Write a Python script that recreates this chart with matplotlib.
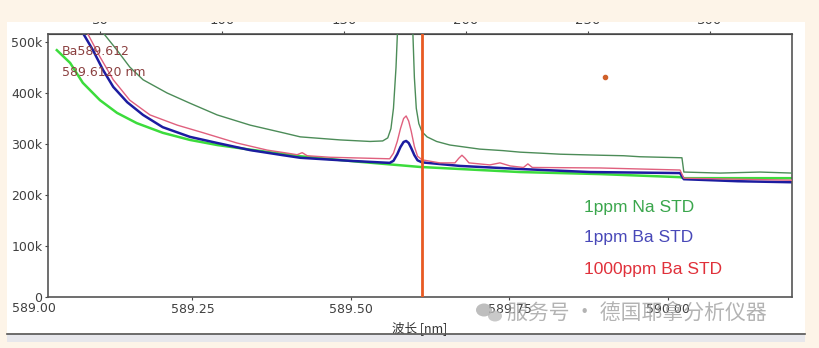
import matplotlib.pyplot as plt
from matplotlib.patches import Rectangle, Ellipse

# wavelength [nm] / intensity [k counts]
na_wl = [589.100, 589.109, 589.131, 589.151, 589.172, 589.210, 589.246, 589.289, 589.341,
         589.393, 589.420, 589.483, 589.530, 589.550, 589.558, 589.563, 589.567, 589.571,
         589.574, 589.585, 589.597, 589.600, 589.603, 589.607, 589.612, 589.620, 589.635,
         589.656, 589.703, 589.740, 589.767, 589.800, 589.830, 589.893, 589.930, 589.956,
         590.022, 590.025, 590.082, 590.145, 590.196]
na_val = [530, 518, 484, 451, 426, 400, 380, 357, 337, 322, 314, 308, 305, 306, 312, 330, 370,
          450, 540, 900, 540, 430, 370, 340, 324, 314, 305, 298, 290, 287, 284, 282, 280, 278,
          277, 275, 273, 245, 243, 245, 243]

lime_wl = [589.036, 589.057, 589.077, 589.104, 589.131, 589.162, 589.203, 589.246, 589.289,
           589.341, 589.420, 589.514, 589.609, 589.703, 589.767, 589.893, 590.019, 590.025,
           590.100, 590.196]
lime_val = [484, 459, 420, 386, 361, 341, 322, 308, 298, 289, 276, 265, 255, 249, 245, 241,
            235, 233, 233, 233]

blue_wl = [589.070, 589.077, 589.093, 589.109, 589.125, 589.147, 589.172, 589.203, 589.246,
           589.289, 589.341, 589.393, 589.420, 589.498, 589.561, 589.567, 589.573, 589.578,
           589.583, 589.587, 589.591, 589.595, 589.600, 589.605, 589.612, 589.672, 589.767,
           589.877, 590.019, 590.025, 590.110, 590.196]
blue_val = [540, 518, 484, 445, 412, 382, 357, 333, 314, 302, 288, 278, 273, 267, 263, 267,
            280, 294, 304, 306, 302, 292, 278, 268, 264, 257, 251, 245, 243, 231, 227, 225]

pink_wl = [589.077, 589.084, 589.104, 589.125, 589.151, 589.183, 589.226, 589.267, 589.320,
           589.368, 589.400, 589.415, 589.423, 589.431, 589.467, 589.530, 589.561, 589.567,
           589.573, 589.578, 589.583, 589.587, 589.591, 589.595, 589.600, 589.605, 589.612,
           589.640, 589.664, 589.670, 589.675, 589.680, 589.686, 589.719, 589.735, 589.751,
           589.772, 589.779, 589.786, 589.893, 589.956, 590.019, 590.025, 590.110, 590.196]
pink_val = [540, 518, 471, 426, 386, 357, 337, 322, 302, 288, 282, 279, 283, 277, 274, 272,
            271, 282, 305, 330, 350, 355, 345, 325, 295, 276, 269, 263, 263, 272, 278, 272, 263,
            259, 263, 257, 254, 261, 254, 253, 251, 249, 233, 231, 229]

marker_wl = 589.612
dot_wl, dot_val = 589.9006, 431
bottom_ticks = [589.25, 589.50, 589.75, 590.00]
y_ticks = [0, 100, 200, 300, 400, 500]
top_ticks = [50, 100, 150, 200, 250, 300]
legend_names = ['1ppm Na STD', '1ppm Ba STD', '1000ppm Ba STD']
legend_colors = ['#3aa64c', '#4848b8', '#e0303a']

W, H = 819, 348
fig = plt.figure(figsize=(W / 100, H / 100), dpi=100)
fig.patch.set_facecolor('#fdf4e8')
fig.add_artist(Rectangle((7 / W, 1 - 333 / H), 798 / W, 311 / H, transform=fig.transFigure,
                         facecolor='white', edgecolor='none', zorder=-5))
fig.add_artist(Rectangle((7 / W, 1 - 342 / H), 798 / W, 8 / H, transform=fig.transFigure,
                         facecolor='#e7e7ec', edgecolor='none', zorder=-5))
fig.add_artist(plt.Line2D([7 / W, 805 / W], [1 - 334 / H] * 2, transform=fig.transFigure,
                          color='#555555', lw=1.2))

ax = fig.add_axes([48 / W, 1 - 297 / H, 744 / W, 263 / H])
ax.set_facecolor('white')

ax.plot(lime_wl, lime_val, color='#3cdc3c', lw=1.8, zorder=2)
ax.plot(na_wl, na_val, color='#4c8c58', lw=1.0, zorder=3)
ax.plot(pink_wl, pink_val, color='#e0607e', lw=1.0, zorder=3)
ax.plot(blue_wl, blue_val, color='#1c1ca0', lw=1.8, zorder=2.5)
ax.axvline(marker_wl, color='#e85a22', lw=2.0, zorder=4)
ax.plot([dot_wl], [dot_val], 'o', color='#d0602a', ms=3, zorder=4)

ax.set_xlim(589.0221, 590.1956)
ax.set_ylim(0, 515.7)
ax.set_xticks(bottom_ticks)
ax.set_xticklabels([f'{t:.2f}' for t in bottom_ticks])
ax.set_yticks(y_ticks)
ax.set_yticklabels(['0'] + [f'{t}k' for t in y_ticks[1:]])
ax.tick_params(length=2, width=0.8, color='#444444', labelsize=9, labelcolor='#404040', pad=2)
ax.text(589.0, -0.02, '589.00', transform=ax.get_xaxis_transform(), ha='center', va='top',
        fontsize=9, color='#404040', clip_on=False)
for s in ax.spines.values():
    s.set_color('#555555')
    s.set_linewidth(1.2)

top = ax.secondary_xaxis('top', functions=(lambda w: 50 + (w - 589.104) / 0.003849,
                                           lambda p: 589.104 + (p - 50) * 0.003849))
top.set_xticks(top_ticks)
top.tick_params(length=2, width=0.8, color='#444444', labelsize=9.5, labelcolor='#404040', pad=3)

ax.set_xlabel('波长 [nm]', fontsize=9, color='#333333', labelpad=4,
              family=['Noto Sans CJK SC', 'DejaVu Sans'])

ax.text(0.0188, 0.932, 'Ba589.612', transform=ax.transAxes, fontsize=9, color='#8b4040', va='center')
ax.text(0.0188, 0.852, '589.6120 nm', transform=ax.transAxes, fontsize=9, color='#8b4040', va='center')

for name, c, yf in zip(legend_names, legend_colors, [0.342, 0.228, 0.103]):
    ax.text(0.720, yf, name, transform=ax.transAxes, fontsize=12.5, color=c, va='center',
            family='Liberation Sans')

# watermark
fig.text(507 / W, 1 - 313 / H, '服务号 · 德国耶拿分析仪器', fontsize=15, color='#9a9a9a', alpha=0.75,
         va='center', family=['Noto Sans CJK SC', 'DejaVu Sans'], zorder=10)
fig.add_artist(Ellipse((484 / W, 1 - 310 / H), 16 / W, 13 / H, transform=fig.transFigure,
                       facecolor='#a8a8a8', alpha=0.75, zorder=10))
fig.add_artist(Ellipse((495 / W, 1 - 316 / H), 14 / W, 11 / H, transform=fig.transFigure,
                       facecolor='#b8b8b8', alpha=0.75, zorder=10))

# the top strip hides the upper part of the pixel-axis labels
fig.add_artist(Rectangle((0, 1 - 22 / H), 1, 22 / H, transform=fig.transFigure,
                         facecolor='#fdf4e8', edgecolor='none', zorder=20))

fig.savefig('out.png', dpi=100, facecolor=fig.get_facecolor())
